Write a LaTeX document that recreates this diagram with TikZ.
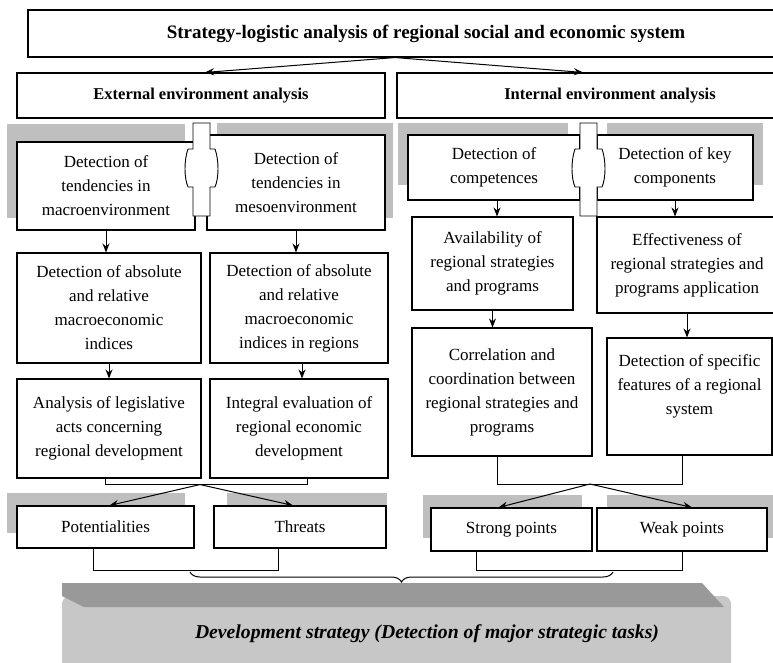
\documentclass[tikz,border=0pt]{standalone}
\usepackage{fontspec}
\setmainfont{Liberation Serif}
\usetikzlibrary{arrows.meta,decorations.pathreplacing,calc}

\begin{document}
\begin{tikzpicture}[x=1pt,y=-1pt,
    box/.style={draw, line width=1.1pt, fill=white, align=center, inner sep=2pt,
      font=\fontsize{17}{24}\selectfont},
    head/.style={box, font=\fontsize{16.5}{24}\selectfont\bfseries},
    panel/.style={fill=black!25},
    arr/.style={-{Stealth[length=9pt,width=7pt]}, line width=1pt},
    link/.style={line width=1pt}]
  \useasboundingbox (0,0) rectangle (773,662);
  \clip (0,0) rectangle (773,662);

  % Draw grey backing panels
  \fill[panel] (7,124) rectangle (185,218);
  \fill[panel] (217,123) rectangle (393,218);
  \fill[panel] (398,123) rectangle (568,185);
  \fill[panel] (607,123) rectangle (763,185);
  \fill[panel] (7,493) rectangle (185,533);
  \fill[panel] (227,493) rectangle (387,532);
  \fill[panel] (423,495) rectangle (582,538);
  \fill[panel] (607,495) rectangle (790,538);

  % Draw headings
  \node[head, minimum width=796pt, minimum height=47pt, font=\fontsize{19}{24}\selectfont\bfseries] (title) at (426,33.5) {Strategy-logistic analysis of regional social and economic system};
  \node[head, minimum width=368pt, minimum height=45pt] (ext) at (201,95.5) {External environment analysis};
  \node[head, minimum width=426pt, minimum height=45pt] (int) at (610,95.5) {Internal environment analysis};

  % Draw external analysis boxes
  \node[box, minimum width=178pt, minimum height=88pt] (macro) at (106,186) {Detection of\\ tendencies in\\ macroenvironment};
  \node[box, minimum width=178pt, minimum height=95pt] (meso) at (296,182.5) {Detection of\\ tendencies in\\ mesoenvironment};
  \node[box, minimum width=184pt, minimum height=110pt] (absL) at (109,308) {Detection of absolute\\ and relative\\ macroeconomic\\ indices};
  \node[box, minimum width=178pt, minimum height=110pt] (absR) at (299,308) {Detection of absolute\\ and relative\\ macroeconomic\\ indices in regions};
  \node[box, minimum width=184pt, minimum height=99pt] (legis) at (109,428.5) {Analysis of legislative\\ acts concerning\\ regional development};
  \node[box, minimum width=178pt, minimum height=99pt] (integ) at (299,428.5) {Integral evaluation of\\ regional economic\\ development};

  % Draw internal analysis boxes
  \node[box, minimum width=172pt, minimum height=65pt] (comp) at (494,167.5) {Detection of\\ competences};
  \node[box, minimum width=156pt, minimum height=65pt] (keycomp) at (675,167.5) {Detection of key\\ components};
  \node[box, minimum width=161pt, minimum height=93pt] (avail) at (492.5,263.5) {Availability of\\ regional strategies\\ and programs};
  \node[box, minimum width=180pt, minimum height=96pt] (effect) at (687,265) {Effectiveness of\\ regional strategies and\\ programs application};
  \node[box, minimum width=180pt, minimum height=128pt] (correl) at (502,392) {Correlation and\\ coordination between\\ regional strategies and\\ programs};
  \node[box, minimum width=165pt, minimum height=117pt] (specif) at (689.5,396.5) {Detection of specific\\ features of a regional\\ system\\ \mbox{}};

  % Draw result boxes
  \node[box, minimum width=177pt, minimum height=42pt] (pot) at (105.5,527) {Potentialities};
  \node[box, minimum width=172pt, minimum height=42pt] (thr) at (300,527) {Threats};
  \node[box, minimum width=161pt, minimum height=43pt] (strong) at (511.5,529.5) {Strong points};
  \node[box, minimum width=170pt, minimum height=43pt] (weak) at (682,529.5) {Weak points};

  % Draw couplers between paired boxes
  \foreach \xl/\xr in {193/210,580/597}{
    \draw[line width=0.9pt, fill=white] (\xl,123) -- (\xr,123) -- (\xr,149) -- (\xr+5,149)
      .. controls (\xr+9,160) and (\xr+9,178) .. (\xr+5,187) -- (\xr,187) -- (\xr,216)
      -- (\xl,216) -- (\xl,187) -- (\xl-5,187)
      .. controls (\xl-9,178) and (\xl-9,160) .. (\xl-5,149) -- (\xl,149) -- cycle;
  }

  % Draw arrows
  \coordinate (split) at ([xshift=-31pt]title.south);
  \draw[arr] (split) -- ([xshift=4pt]ext.north);
  \draw[arr] (split) -- ([xshift=-27pt]int.north);
  \draw[arr] (macro.south) -- (macro.south |- absL.north);
  \draw[arr] (meso.south) -- (meso.south |- absR.north);
  \draw[arr] (absL.south) -- (legis.north);
  \draw[arr] ([xshift=3pt]absR.south) -- ([xshift=3pt]integ.north);
  \draw[arr] ([xshift=3pt]comp.south) -- ([xshift=3pt]comp.south |- avail.north);
  \draw[arr] (keycomp.south) -- (keycomp.south |- effect.north);
  \draw[arr] (avail.south) -- (avail.south |- correl.north);
  \draw[arr] (effect.south) -- (effect.south |- specif.north);

  % Draw brackets and splits
  \draw[link] ([xshift=-4pt]legis.south) -- ++(0,6) -| ([xshift=8pt]integ.south);
  \coordinate (join1) at ($(legis.south)!0.5!(integ.south)+(-4,6)$);
  \draw[arr] (join1) -- ([xshift=4pt]pot.north);
  \draw[arr] (join1) -- ([xshift=-7pt]thr.north);
  \draw[link] ([xshift=-5pt]correl.south) -- ++(0,28) -| ([xshift=-7pt]specif.south);
  \coordinate (join2) at (590,484);
  \draw[arr] (join2) -- ([xshift=-13pt]strong.north);
  \draw[arr] (join2) -- ([xshift=10pt]weak.north);
  \draw[link] ([xshift=-12pt]pot.south) -- ++(0,22) -| ([xshift=-22pt]thr.south);
  \draw[link] ([xshift=-35pt]strong.south) -- ++(0,19) -| (weak.south);

  % Draw strategy slab
  \fill[black!22, rounded corners=8pt] (62,596) rectangle (731,680);
  \fill[black!40] (62,583) -- (702,583) -- (724,607) -- (84,607) -- (62,596) -- cycle;
  \node[font=\fontsize{19.7}{22}\selectfont\bfseries\itshape] (strat) at (427,634) {Development strategy (Detection of major strategic tasks)};

  % Draw brace
  \coordinate (brl) at (190,572);
  \coordinate (brr) at (613,572);
  \draw[link, decorate, decoration={brace, mirror, amplitude=10pt}] (brl) -- (brr);
\end{tikzpicture}
\end{document}
